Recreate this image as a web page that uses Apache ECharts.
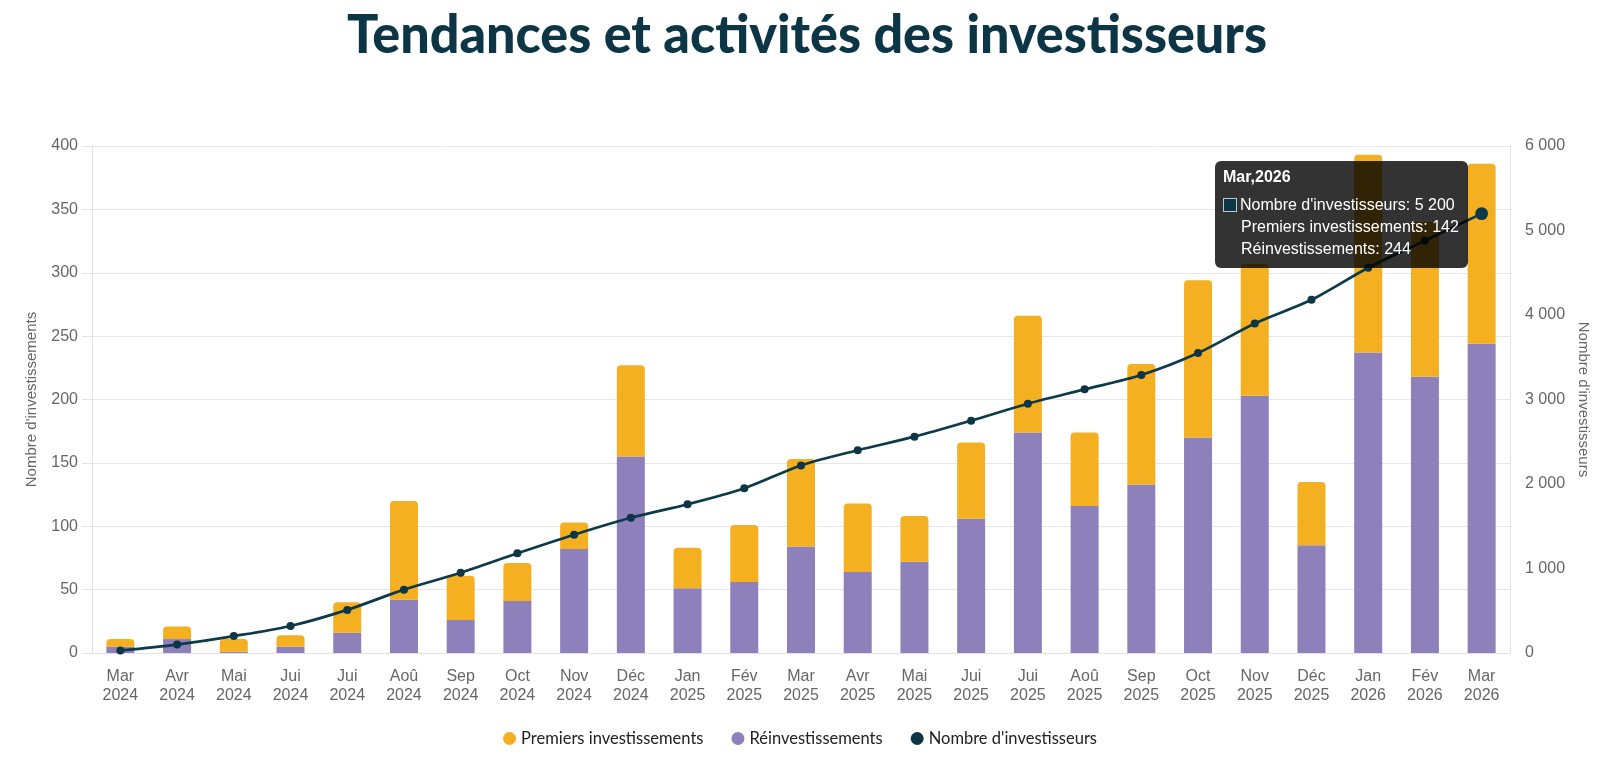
<!DOCTYPE html>
<html>
<head>
<meta charset="utf-8">
<title>Tendances et activités des investisseurs</title>
<script src="https://cdn.jsdelivr.net/npm/echarts@6/dist/echarts.min.js"></script>
<style>
  html, body { margin: 0; padding: 0; background: #fff; }
  #main { width: 1600px; height: 759px; }
</style>
</head>
<body>
<div id="main"></div>
<script>
// mois / années (axe des x)
var mois = ['Mar', 'Avr', 'Mai', 'Jui', 'Jui', 'Aoû', 'Sep', 'Oct', 'Nov', 'Déc', 'Jan', 'Fév', 'Mar',
            'Avr', 'Mai', 'Jui', 'Jui', 'Aoû', 'Sep', 'Oct', 'Nov', 'Déc', 'Jan', 'Fév', 'Mar'];
var annees = ['2024', '2024', '2024', '2024', '2024', '2024', '2024', '2024', '2024', '2024', '2025', '2025', '2025',
              '2025', '2025', '2025', '2025', '2025', '2025', '2025', '2025', '2025', '2026', '2026', '2026'];

// séries
var reinvestissements = [5, 11, 1, 5, 16, 42, 26, 41, 82, 155, 51, 56, 84,
                         64, 72, 106, 174, 116, 133, 170, 203, 85, 237, 218, 244];
var premiers = [6, 10, 10, 9, 24, 78, 35, 30, 21, 72, 32, 45, 69,
                54, 36, 60, 92, 58, 95, 124, 104, 50, 156, 122, 142];
var investisseurs = [30, 100, 200, 320, 510, 750, 950, 1180, 1400, 1600, 1760, 1950, 2220,
                     2400, 2560, 2750, 2950, 3120, 3290, 3550, 3900, 4180, 4560, 4880, 5200];

var categories = mois.map(function (m, i) { return m + '\n' + annees[i]; });

var TITRE = 'Tendances et activités des investisseurs';
var ORANGE = '#f5b022';
var VIOLET = '#8d80bb';
var NUIT = '#0c3545';

function espaces(v) {
    return String(v).replace(/\B(?=(\d{3})+(?!\d))/g, ' ');
}

// le titre d'origine est une police condensée : on resserre Lato pour garder la même largeur
var titreFont = '900 54px Lato';
var mesure = document.createElement('canvas').getContext('2d');
mesure.font = titreFont;
var titreScale = 920 / mesure.measureText(TITRE).width;

var myChart = echarts.init(document.getElementById('main'));

myChart.setOption({
    animation: false,
    graphic: [{
        type: 'text',
        x: 807,
        y: 36,
        scaleX: titreScale,
        style: {
            text: TITRE,
            font: titreFont,
            fill: NUIT,
            textAlign: 'center',
            textVerticalAlign: 'middle'
        }
    }],
    legend: {
        top: 725,
        left: 'center',
        icon: 'circle',
        itemWidth: 13,
        itemHeight: 13,
        itemGap: 28,
        data: ['Premiers investissements', 'Réinvestissements', "Nombre d'investisseurs"],
        textStyle: { fontFamily: 'Lato', fontSize: 16.5, color: '#222' }
    },
    tooltip: {
        trigger: 'axis',
        triggerOn: 'none',
        alwaysShowContent: true,
        transitionDuration: 0,
        axisPointer: { type: 'none' },
        backgroundColor: 'rgba(0,0,0,0.8)',
        borderWidth: 0,
        padding: [5, 9, 8, 8],
        extraCssText: 'border-radius:6px;box-shadow:none;',
        position: function () { return [1215, 161]; },
        formatter: function (params) {
            var i = params[0].dataIndex;
            var f = 'font-family:Liberation Sans,Arial,sans-serif;font-size:16px;line-height:22px;color:#fff;';
            return '<div style="' + f + 'font-weight:bold;margin-bottom:6px;">' + mois[i] + ',' + annees[i] + '</div>' +
                '<div style="' + f + '"><span style="display:inline-block;width:12px;height:12px;background:' + NUIT +
                ';border:1.5px solid #b9c9cf;margin-right:3px;vertical-align:-2px;"></span>' +
                "Nombre d'investisseurs: " + espaces(investisseurs[i]) + '</div>' +
                '<div style="' + f + 'padding-left:18px;">Premiers investissements: ' + premiers[i] + '</div>' +
                '<div style="' + f + 'padding-left:18px;">Réinvestissements: ' + reinvestissements[i] + '</div>';
        }
    },
    grid: { left: 92, right: 90, top: 146, bottom: 106 },
    xAxis: {
        type: 'category',
        data: categories,
        axisLine: { lineStyle: { color: '#e2e2e2' } },
        axisTick: { show: false },
        axisLabel: {
            interval: 0,
            margin: 14,
            fontFamily: 'Liberation Sans',
            fontSize: 16,
            lineHeight: 19,
            color: '#666'
        }
    },
    yAxis: [
        {
            type: 'value',
            min: 0,
            max: 400,
            interval: 50,
            name: "Nombre d'investissements",
            nameLocation: 'middle',
            nameGap: 53,
            nameTextStyle: { fontFamily: 'Liberation Sans', fontSize: 15, color: '#666' },
            axisLine: { show: true, lineStyle: { color: '#e2e2e2' } },
            axisTick: { show: true, length: 10, lineStyle: { color: '#e2e2e2' } },
            axisLabel: { margin: 14, fontFamily: 'Liberation Sans', fontSize: 16, color: '#666' },
            splitLine: { lineStyle: { color: '#e6e6e6' } }
        },
        {
            type: 'value',
            min: 0,
            max: 6000,
            interval: 1000,
            position: 'right',
            name: "Nombre d'investisseurs",
            nameLocation: 'middle',
            nameRotate: -90,
            nameGap: 66,
            nameTextStyle: { fontFamily: 'Liberation Sans', fontSize: 15, color: '#666' },
            axisLine: { show: true, lineStyle: { color: '#e2e2e2' } },
            axisTick: { show: false },
            axisLabel: {
                margin: 15,
                fontFamily: 'Liberation Sans',
                fontSize: 16,
                color: '#666',
                formatter: espaces
            },
            splitLine: { show: false }
        }
    ],
    series: [
        {
            name: 'Réinvestissements',
            type: 'bar',
            stack: 'inv',
            barWidth: 28,
            itemStyle: { color: VIOLET },
            emphasis: { disabled: true },
            data: reinvestissements
        },
        {
            name: 'Premiers investissements',
            type: 'bar',
            stack: 'inv',
            barWidth: 28,
            itemStyle: { color: ORANGE, borderRadius: [4, 4, 0, 0] },
            emphasis: { disabled: true },
            data: premiers
        },
        {
            name: "Nombre d'investisseurs",
            type: 'line',
            yAxisIndex: 1,
            smooth: 0.3,
            symbol: 'circle',
            symbolSize: 8,
            z: 5,
            itemStyle: { color: NUIT },
            lineStyle: { color: NUIT, width: 2.7 },
            emphasis: { scale: 1.6 },
            data: investisseurs
        }
    ]
});

myChart.dispatchAction({ type: 'showTip', seriesIndex: 2, dataIndex: 24 });
myChart.dispatchAction({ type: 'highlight', seriesIndex: 2, dataIndex: 24 });
</script>
</body>
</html>
